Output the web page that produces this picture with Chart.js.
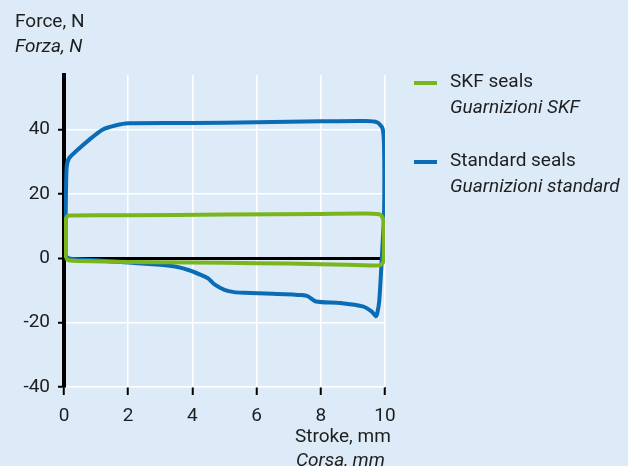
<!DOCTYPE html>
<html>
<head>
<meta charset="utf-8">
<script src="https://cdn.jsdelivr.net/npm/chart.js@4/dist/chart.umd.min.js"></script>
<style>
    html, body { margin: 0; padding: 0; background: #dcebf7; }
    #sealChart { display: block; }
</style>
</head>
<body>
<canvas id="sealChart" width="628" height="466"></canvas>
<script>
// Stroke (mm) / force (N), loops traced in drawing order
const strokeSkf = [0.05, 0.05, 0.06, 0.15, 2, 5, 8, 9.6, 9.85, 9.95, 9.97, 9.95, 9.85, 9.6, 8, 6, 4, 2, 0.5, 0.15, 0.05];
const forceSkf  = [0, 6, 12.3, 13.3, 13.4, 13.6, 13.8, 13.9, 13.6, 12, 5, -1, -2.1, -2.2, -1.8, -1.5, -1.3, -1.1, -0.8, -0.6, 0];

const strokeStd = [0.05, 0.05, 0.08, 0.15, 0.4, 0.8, 1.2, 1.6, 2.0, 4, 6, 8, 9.4, 9.75, 9.92, 9.97, 9.97, 9.9, 9.82, 9.76, 9.72, 9.58, 9.33, 8.6, 7.85, 7.6, 7.4, 6.5, 5.6, 5.3, 5.0, 4.7, 4.5, 4.3, 3.9, 3.5, 3.0, 2.0, 1.0, 0.2, 0.08, 0.05];
const forceStd  = [1, 10, 28, 31, 33.5, 37, 40, 41.3, 42, 42.1, 42.3, 42.6, 42.7, 42.3, 40.5, 35, 14, 0, -13.4, -17, -18, -16.5, -15, -13.9, -13.4, -11.8, -11.4, -11, -10.7, -10.5, -9.8, -8.2, -6.3, -5.3, -3.7, -2.6, -2.0, -1.3, -0.6, -0.1, 0.4, 1];

const xTicks = [0, 2, 4, 6, 8, 10];
const yTicks = [-40, -20, 0, 20, 40];
const yMax = 57;

const seriesNames = [
    ['SKF seals', 'Guarnizioni SKF'],
    ['Standard seals', 'Guarnizioni standard']
];
const xTitle = ['Stroke, mm', 'Corsa, mm'];
const yTitle = ['Force, N', 'Forza, N'];

const colors = ['#7ab51d', '#0b6cb5'];
const textColor = '#1e1e1e';
const fontFamily = 'Roboto, "Open Sans", sans-serif';

const toPoints = (xs, ys) => xs.map((x, i) => ({ x: x, y: ys[i] }));

// titles and the two-line legend are drawn on the canvas
const textPlugin = {
    id: 'textPlugin',
    afterDraw(chart) {
        const ctx = chart.ctx;
        ctx.save();
        ctx.fillStyle = textColor;
        ctx.textBaseline = 'middle';
        ctx.textAlign = 'left';

        ctx.font = '19px ' + fontFamily;
        ctx.fillText(yTitle[0], 15, 22);
        ctx.font = 'italic 19px ' + fontFamily;
        ctx.fillText(yTitle[1], 15, 47);

        ctx.font = '19px ' + fontFamily;
        ctx.fillText(xTitle[0], 295, 437);
        ctx.font = 'italic 19px ' + fontFamily;
        ctx.fillText(xTitle[1], 296, 461);

        seriesNames.forEach((names, i) => {
            const top = 82 + i * 79;
            ctx.strokeStyle = colors[i];
            ctx.lineWidth = 4;
            ctx.beginPath();
            ctx.moveTo(414, top + 1);
            ctx.lineTo(437, top + 1);
            ctx.stroke();
            ctx.font = '19px ' + fontFamily;
            ctx.fillText(names[0], 450, top);
            ctx.font = 'italic 19px ' + fontFamily;
            ctx.fillText(names[1], 450, top + 26);
        });
        ctx.restore();
    }
};

const ctx = document.getElementById('sealChart').getContext('2d');
new Chart(ctx, {
    type: 'scatter',
    data: {
        datasets: [
            {
                label: seriesNames[0][0],
                data: toPoints(strokeSkf, forceSkf),
                showLine: true,
                borderColor: colors[0],
                borderWidth: 4,
                pointRadius: 0,
                tension: 0.25
            },
            {
                label: seriesNames[1][0],
                data: toPoints(strokeStd, forceStd),
                showLine: true,
                borderColor: colors[1],
                borderWidth: 4,
                pointRadius: 0,
                tension: 0.25
            }
        ]
    },
    options: {
        responsive: false,
        animation: false,
        layout: {
            padding: { top: 75, right: 243, left: 0, bottom: 0 }
        },
        plugins: {
            legend: { display: false },
            tooltip: { enabled: false }
        },
        scales: {
            x: {
                type: 'linear',
                min: xTicks[0],
                max: xTicks[xTicks.length - 1],
                afterFit: scale => { scale.height = 79; },
                afterBuildTicks: scale => { scale.ticks = xTicks.map(v => ({ value: v })); },
                border: { display: false },
                grid: {
                    color: '#ffffff',
                    lineWidth: 1.5,
                    tickColor: '#000000',
                    tickWidth: 2,
                    tickLength: 8
                },
                ticks: {
                    color: textColor,
                    padding: 10,
                    font: { family: fontFamily, size: 19 }
                }
            },
            y: {
                type: 'linear',
                min: yTicks[0],
                max: yMax,
                afterFit: scale => { scale.width = 64; },
                afterBuildTicks: scale => { scale.ticks = yTicks.map(v => ({ value: v })); },
                border: { display: true, color: '#000000', width: 4 },
                grid: {
                    color: c => (c.tick && c.tick.value === 0 ? '#000000' : '#ffffff'),
                    lineWidth: c => (c.tick && c.tick.value === 0 ? 3 : 1.5),
                    tickColor: '#000000',
                    tickWidth: 2,
                    tickLength: 6
                },
                ticks: {
                    color: textColor,
                    padding: 8,
                    font: { family: fontFamily, size: 19 }
                }
            }
        }
    },
    plugins: [textPlugin]
});
</script>
</body>
</html>
